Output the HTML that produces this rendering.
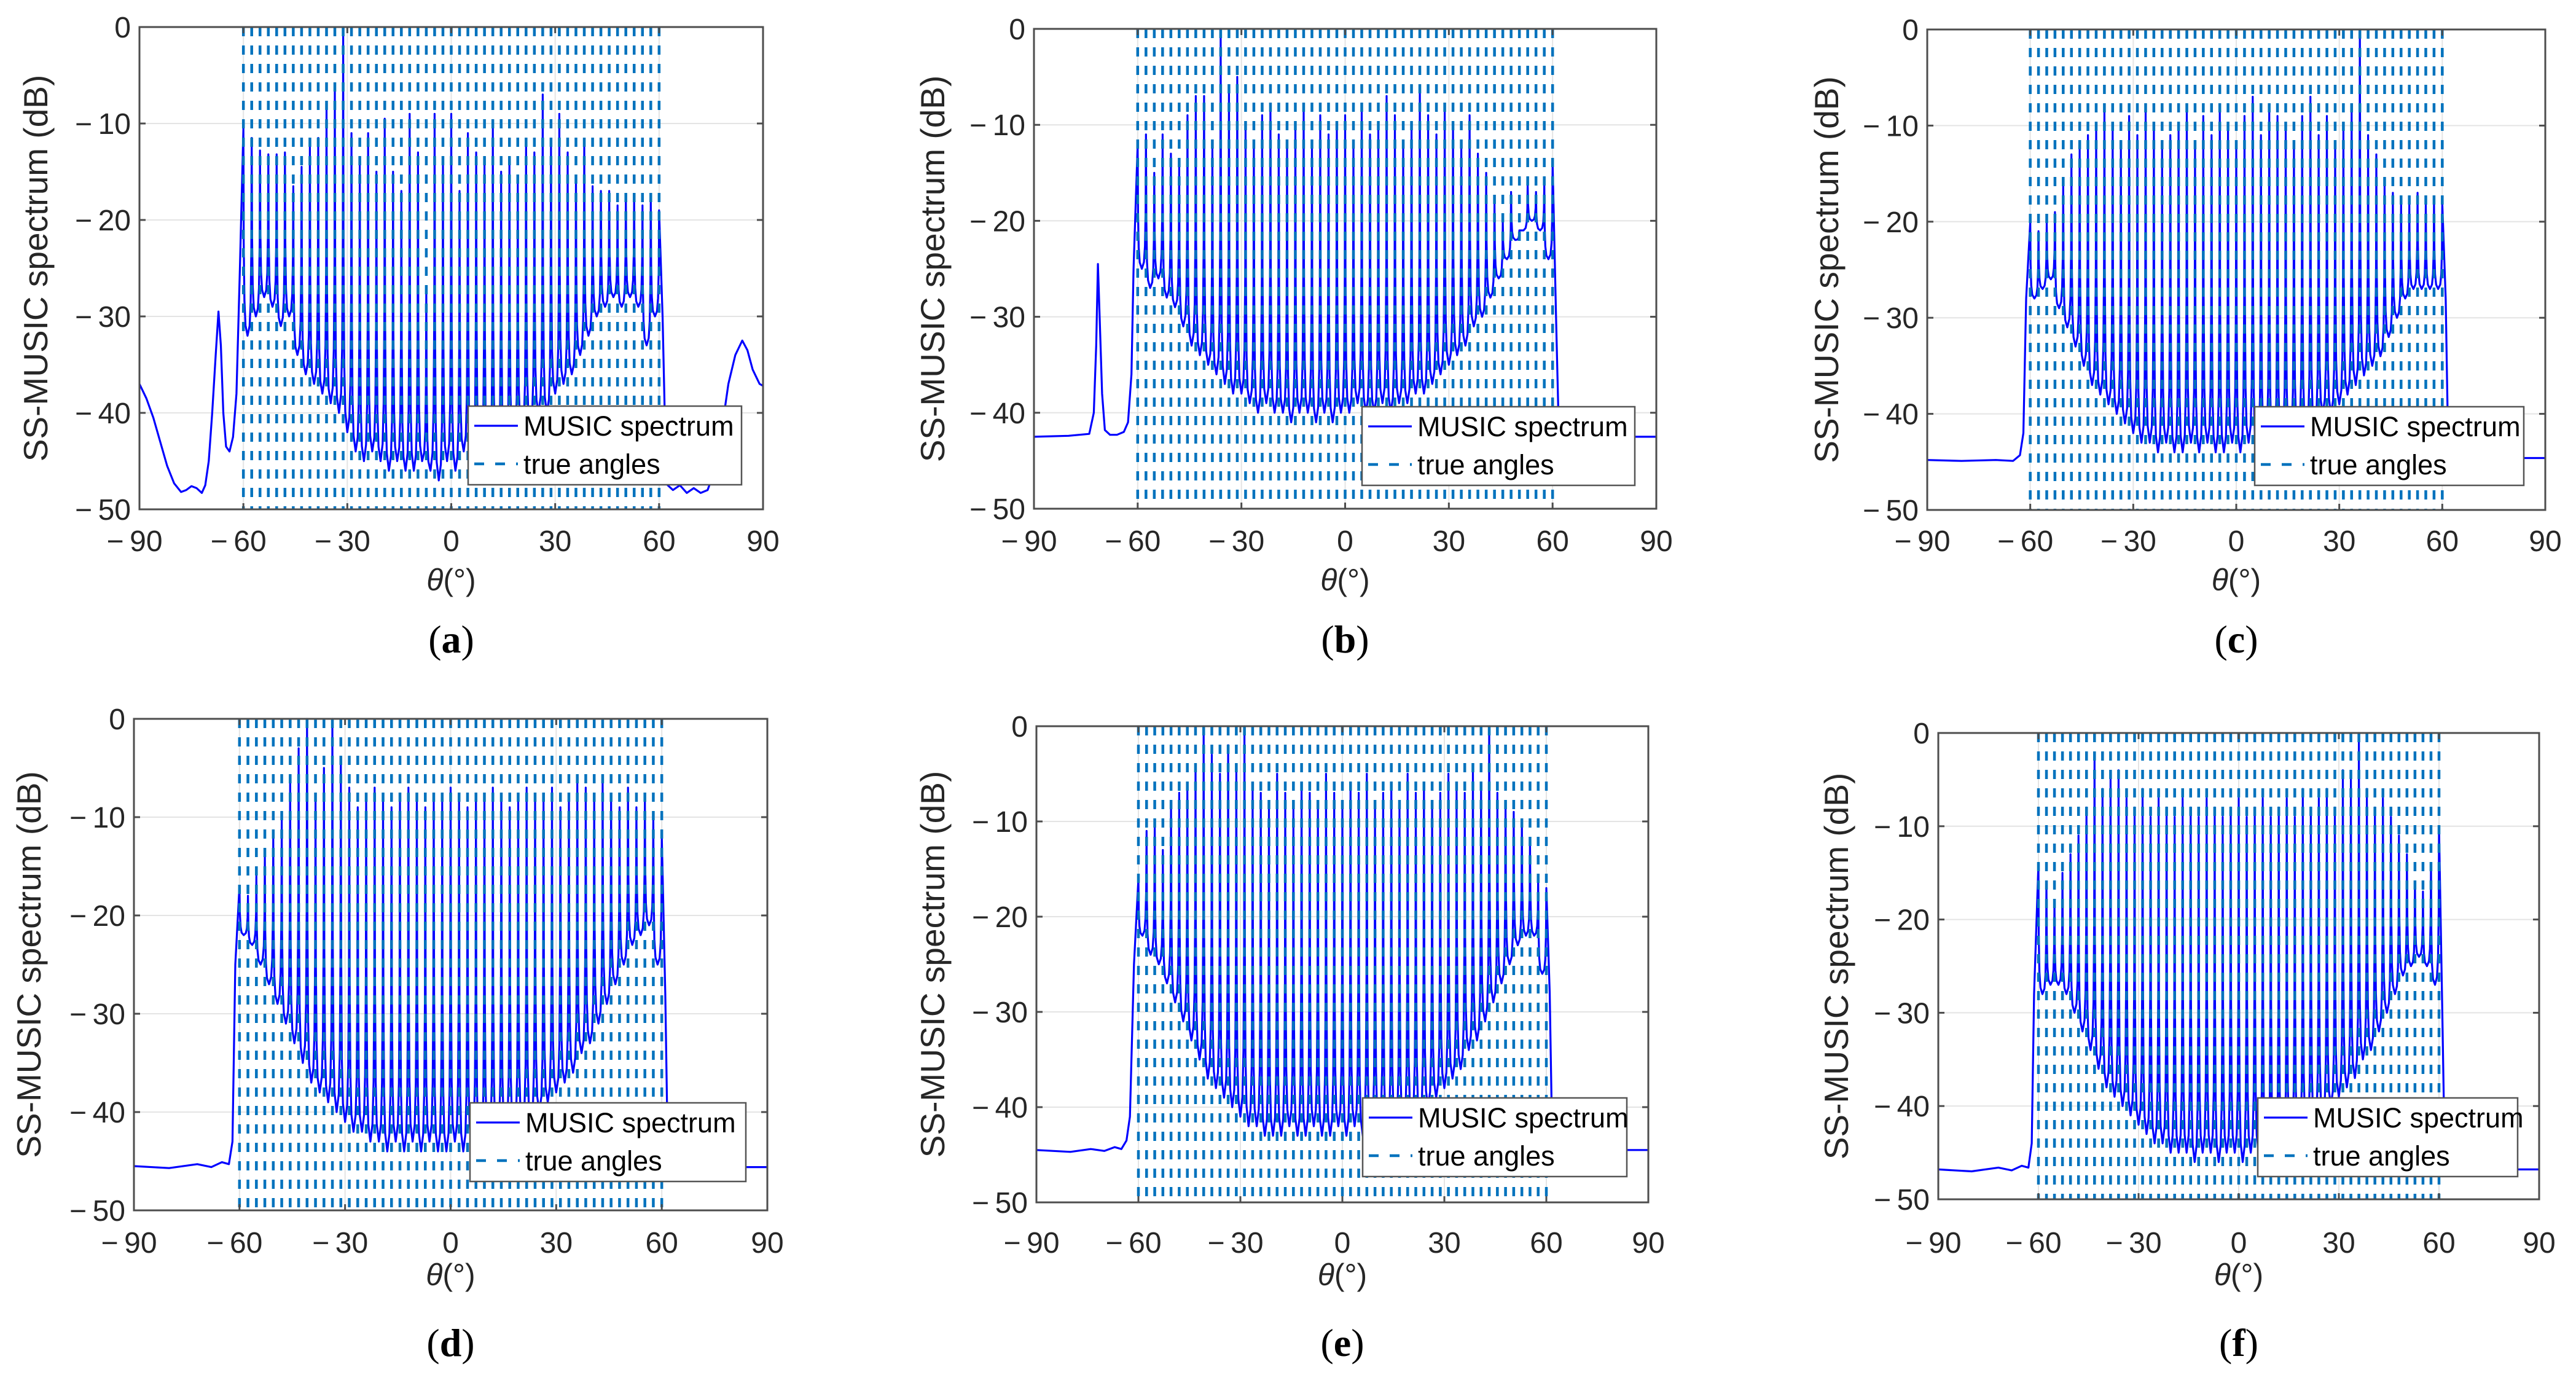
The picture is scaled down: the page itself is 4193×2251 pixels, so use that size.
<!DOCTYPE html>
<html><head><meta charset="utf-8"><title>SS-MUSIC spectra</title>
<style>
html,body{margin:0;padding:0;background:#fff;}
svg{display:block;font-family:"Liberation Sans",Arial,sans-serif;}
</style></head>
<body>
<svg id="fig" width="4193" height="2251" viewBox="0 0 4193 2251" xmlns="http://www.w3.org/2000/svg"></svg>
<script>
// ---- data (dB values) ----
const xTicks = [-90,-60,-30,0,30,60,90];
const yTicks = [0,-10,-20,-30,-40,-50];
const xTickLabels = ["\u2212\u200990","\u2212\u200960","\u2212\u200930","0","30","60","90"];
const yTickLabels = ["0","\u2212\u200910","\u2212\u200920","\u2212\u200930","\u2212\u200940","\u2212\u200950"];
const panelLetters = ["a","b","c","d","e","f"];
const trueAngleStart = -60;
const trueAngleStep = 2.4;
const trueAngleCount = 51;

const peaksA = [-10.5,-11.5,-12.8,-13.2,-13.2,-13,-16.5,-14.5,-12,-11.5,-8.5,-6.5,0,-11,-14,-11,-15,-9.5,-15,-17,-9,-13,-27,-9,-14,-9,-17,-11,-13,-14,-10.5,-15,-13.5,-16,-12,-13,-7,-12,-9,-13,-15.5,-12,-16.5,-17,-17,-18.5,-17.5,-17.5,-18.5,-18,-19];
const valleysA = [-32,-30,-28,-29,-31,-30,-34,-36,-37,-38,-39,-40,-42,-44,-45,-44,-45,-46,-45,-46,-46,-45,-46,-47,-45,-46,-44,-45,-44,-45,-44,-44,-43,-42,-41,-40,-40,-38,-37,-36,-34,-32,-30,-29,-28,-29,-28,-29,-33,-30];
const leftA = [[-90,-37],[-88,-38.5],[-86,-40.5],[-84,-43],[-82,-45.5],[-80,-47.3],[-78,-48.2],[-76.5,-48],[-75,-47.6],[-73.5,-47.8],[-72,-48.3],[-71,-47.5],[-70,-45],[-69,-40],[-68,-34],[-67.2,-29.5],[-66.5,-33],[-65.8,-40],[-65,-43.5],[-64,-44],[-63,-42.5],[-62,-38],[-61,-25]];
const rightA = [[61,-30],[61.8,-43],[62.5,-47.5],[64,-48],[66,-47.5],[68,-48.3],[70,-47.8],[72,-48.3],[74,-48],[76,-46],[78,-42],[80,-37],[82,-34],[84,-32.5],[85.5,-33.5],[87,-35.5],[89,-37],[90,-37.2]];

const peaksB = [-12,-11,-15,-11,-13,-14,-9,-7,-7,-12,0,-6,-5,-10,-12,-9,-8,-11,-12,-10,-8,-12,-9,-11,-10,-9,-12,-8,-11,-10,-7,-9,-12,-10,-6,-9,-11,-8,-10,-12,-9,-13,-15,-18,-20,-17,-21,-16,-17,-16,-14];
const valleysB = [-25,-27,-26,-28,-29,-31,-33,-34,-35,-36,-37,-38,-38,-39,-40,-39,-40,-40,-41,-40,-40,-41,-40,-41,-40,-40,-39,-40,-40,-39,-40,-39,-39,-38,-38,-37,-36,-35,-34,-33,-31,-30,-28,-26,-24,-22,-21,-20,-21,-24];
const leftB = [[-90,-42.5],[-80,-42.4],[-74,-42.2],[-72.7,-40],[-72,-33],[-71.5,-24.5],[-71,-30],[-70.3,-38],[-69.5,-41.8],[-68,-42.3],[-66,-42.3],[-64,-42],[-62.8,-41],[-61.8,-36],[-61.2,-25]];
const rightB = [[61,-30],[61.8,-42],[63,-42.5],[75,-42.5],[90,-42.5]];

const peaksC = [-20,-21,-20,-19,-16,-13,-12,-11,-10,-8,-10,-12,-9,-11,-8,-10,-12,-11,-10,-8,-12,-9,-11,-8,-10,-12,-9,-7,-11,-8,-9,-10,-12,-9,-7,-11,-9,-12,-10,-8,0,-11,-13,-16,-17,-18,-18,-17,-18,-18,-18];
const valleysC = [-28,-27,-26,-29,-31,-33,-35,-37,-38,-39,-40,-41,-42,-43,-43,-44,-43,-44,-44,-43,-44,-43,-44,-44,-43,-44,-43,-44,-43,-44,-43,-43,-42,-42,-41,-40,-40,-39,-38,-37,-36,-35,-34,-32,-30,-28,-27,-27,-27,-27];
const leftC = [[-90,-44.8],[-80,-44.9],[-70,-44.8],[-65,-44.9],[-63,-44.3],[-62,-42],[-61.2,-28]];
const rightC = [[61,-28],[61.7,-43],[62.5,-44.6],[75,-44.6],[90,-44.6]];

const peaksD = [-17,-18,-16,-14,-12,-10,-6,-3,0,-8,-5,0,-4,-7,-9,-8,-7,-8,-9,-8,-7,-8,-9,-8,-8,-7,-8,-9,-8,-8,-7,-8,-9,-8,-7,-8,-8,-7,-9,-8,-6,-7,-8,-6,-8,-9,-7,-9,-8,-10,-12];
const valleysD = [-22,-23,-25,-27,-29,-31,-33,-35,-37,-38,-39,-40,-41,-42,-42,-43,-43,-44,-43,-44,-43,-44,-43,-44,-44,-43,-44,-43,-44,-43,-43,-42,-42,-41,-41,-40,-39,-38,-37,-36,-34,-33,-31,-29,-27,-25,-23,-22,-21,-25];
const leftD = [[-90,-45.5],[-80,-45.7],[-72,-45.3],[-68,-45.6],[-65,-45.1],[-63,-45.3],[-62,-43],[-61.2,-25]];
const rightD = [[61,-28],[61.7,-44],[62.5,-45.6],[75,-45.6],[90,-45.6]];

const peaksE = [-16,-11,-10,-13,-8,-7,-6,-4,0,-3,-5,-2,-4,0,-6,-7,-8,-5,-7,-8,-6,-7,-8,-5,-7,-8,-6,-7,-5,-8,-7,-6,-8,-5,-7,-6,-8,-7,-5,-6,-7,-4,-6,0,-7,-8,-9,-10,-12,-16,-17];
const valleysE = [-22,-24,-25,-27,-29,-31,-33,-35,-37,-38,-39,-40,-41,-42,-42,-43,-43,-43,-42,-43,-43,-42,-43,-43,-42,-43,-42,-43,-43,-42,-43,-42,-42,-41,-41,-40,-39,-38,-37,-36,-34,-33,-31,-29,-27,-25,-23,-22,-22,-26];
const leftE = [[-90,-44.5],[-80,-44.7],[-74,-44.4],[-70,-44.6],[-67,-44.2],[-65,-44.4],[-63.5,-43.5],[-62.5,-41],[-61.3,-25]];
const rightE = [[61,-28],[61.7,-43],[62.5,-44.5],[75,-44.5],[90,-44.5]];

const peaksF = [-14,-16,-18,-15,-13,-11,-8,-3,-6,-5,-4,-7,-8,-6,-9,-7,-8,-9,-7,-8,-9,-7,-8,-9,-8,-7,-9,-8,-7,-9,-8,-7,-9,-6,-8,-7,-6,-8,-4,-5,0,-6,-8,-7,-9,-11,-13,-16,-17,-14,-10];
const valleysF = [-28,-27,-27,-28,-30,-32,-34,-36,-38,-39,-40,-41,-42,-43,-44,-44,-45,-45,-45,-46,-45,-45,-46,-45,-45,-46,-45,-45,-46,-45,-45,-44,-44,-43,-42,-41,-40,-39,-38,-37,-35,-34,-32,-30,-28,-26,-25,-24,-25,-27];
const leftF = [[-90,-46.8],[-80,-47],[-72,-46.6],[-68,-46.9],[-65,-46.4],[-63,-46.6],[-62,-44],[-61.3,-28]];
const rightF = [[61,-30],[61.7,-45],[62.5,-46.8],[75,-46.8],[90,-46.8]];

const peaksAll = [peaksA,peaksB,peaksC,peaksD,peaksE,peaksF];
const valleysAll = [valleysA,valleysB,valleysC,valleysD,valleysE,valleysF];
const leftAll = [leftA,leftB,leftC,leftD,leftE,leftF];
const rightAll = [rightA,rightB,rightC,rightD,rightE,rightF];

// ---- layout ----
const layout = [
 {L:227,R:1242,T:44,B:829, yt:59, leg:[762,661]},
 {L:1683,R:2696,T:47,B:828, yt:1519, leg:[2217,662]},
 {L:3137,R:4143,T:48,B:830, yt:2974, leg:[3670,662]},
 {L:218,R:1249,T:1170,B:1970, yt:48, leg:[765,1795]},
 {L:1687,R:2683,T:1182,B:1957, yt:1519, leg:[2218,1787]},
 {L:3155,R:4133,T:1193,B:1952, yt:2990, leg:[3675,1787]}
];
const rowY = [{tick:880,xl:944,sub:1040},{tick:2022,xl:2075,sub:2185}];

const NS="http://www.w3.org/2000/svg";
const svg=document.getElementById('fig');
function mk(tag,attrs,parent){const e=document.createElementNS(NS,tag);for(const k in attrs)e.setAttribute(k,attrs[k]);(parent||svg).appendChild(e);return e;}

layout.forEach((g,pi)=>{
  const row = pi<3?rowY[0]:rowY[1];
  const grp=mk('g',{});
  
  
  const sx=v=>g.L+(v+90)/180*(g.R-g.L);
  const sy=v=>g.T+(-v)/50*(g.B-g.T);
  const grid=mk('g',{stroke:'#e4e4e4','stroke-width':2},grp);
  
  
  xTicks.forEach(t=>mk('line',{x1:sx(t),x2:sx(t),y1:g.T,y2:g.B},grid));
  yTicks.forEach(t=>mk('line',{x1:g.L,x2:g.R,y1:sy(t),y2:sy(t)},grid));
  const pk=peaksAll[pi], vl=valleysAll[pi];
  const pts=[];
  leftAll[pi].forEach(p=>pts.push([p[0],p[1]]));
  const offs=[0,0.1,0.3,0.6,1.2], w=[1,0.45,0.17,0.05,0];
  for(let i=0;i<pk.length;i++){
    const a=trueAngleStart+i*trueAngleStep;
    pts.push([a,pk[i]]);
    if(i<pk.length-1){
      const v=vl[i], n=pk[i+1], h=trueAngleStep/2;
      for(let k=1;k<offs.length;k++){const o=offs[k]/1.2*h;pts.push([a+o,v+(pk[i]-v)*w[k]]);}
      for(let k=offs.length-2;k>=1;k--){const o=offs[k]/1.2*h;pts.push([a+trueAngleStep-o,v+(n-v)*w[k]]);}
    }
  }
  rightAll[pi].forEach(p=>pts.push([p[0],p[1]]));
  const d=pts.map((p,i)=>(i?'L':'M')+sx(p[0]).toFixed(1)+','+sy(p[1]).toFixed(1)).join('');
  const sp=mk('path',{d:d,fill:'none',stroke:'#0000ff','stroke-width':3.2,'stroke-linejoin':'round'},grp);
  
  
  const ta=mk('g',{stroke:'#0072bd','stroke-width':4.5,'stroke-dasharray':'15 15'},grp);
  
  
  for(let i=0;i<trueAngleCount;i++){const a=trueAngleStart+i*trueAngleStep;mk('line',{x1:sx(a),x2:sx(a),y1:g.T,y2:g.B},ta);}
  const ax=mk('rect',{x:g.L,y:g.T,width:g.R-g.L,height:g.B-g.T,fill:'none',stroke:'#4d4d4d','stroke-width':3},grp);
  
  
  const tk=mk('g',{stroke:'#4d4d4d','stroke-width':3},grp);
  xTicks.forEach(t=>{mk('line',{x1:sx(t),x2:sx(t),y1:g.B,y2:g.B-10},tk);mk('line',{x1:sx(t),x2:sx(t),y1:g.T,y2:g.T+10},tk);});
  yTicks.forEach(t=>{mk('line',{x1:g.L,x2:g.L+10,y1:sy(t),y2:sy(t)},tk);mk('line',{x1:g.R,x2:g.R-10,y1:sy(t),y2:sy(t)},tk);});
  xTicks.forEach((t,i)=>{const e=mk('text',{x:sx(t)-(t<0?8:0),y:row.tick+17,'font-size':48,'text-anchor':'middle',fill:'#262626'},grp);e.textContent=xTickLabels[i];
    
    });
  yTicks.forEach((t,i)=>{const e=mk('text',{x:g.L-14,y:sy(t)+17,'font-size':48,'text-anchor':'end',fill:'#262626'},grp);e.textContent=yTickLabels[i];
    
    });
  const ytl=mk('text',{x:0,y:0,'font-size':55,'text-anchor':'middle',fill:'#262626',transform:`translate(${g.yt+18},${(g.T+g.B)/2}) rotate(-90)`},grp);
  ytl.textContent='SS-MUSIC spectrum (dB)';
  
  
  const xtl=mk('text',{x:(g.L+g.R)/2,y:row.xl+17,'font-size':50,'text-anchor':'middle',fill:'#262626'},grp);
  xtl.innerHTML='<tspan font-style="italic">θ</tspan>(°)';
  
  
  const sub=mk('text',{x:(g.L+g.R)/2,y:row.sub+22,'font-size':64,'text-anchor':'middle',fill:'#000','font-family':'Liberation Serif, serif'},grp);
  sub.innerHTML='(<tspan font-weight="bold">'+panelLetters[pi]+'</tspan>)';
  
  
  const lx=g.leg[0], ly=g.leg[1];
  const lg=mk('g',{},grp);
  
  
  mk('rect',{x:lx,y:ly,width:g.R-35-lx,height:128,fill:'#fff',stroke:'#555','stroke-width':2.5},lg);
  mk('line',{x1:lx+10,x2:lx+81,y1:ly+32,y2:ly+32,stroke:'#0000ff','stroke-width':3.2},lg);
  mk('line',{x1:lx+10,x2:lx+81,y1:ly+94,y2:ly+94,stroke:'#0072bd','stroke-width':4.5,'stroke-dasharray':'16 18'},lg);
  const t1=mk('text',{x:lx+90,y:ly+48,'font-size':45,fill:'#000'},lg);t1.textContent='MUSIC spectrum';
  
  
  const t2=mk('text',{x:lx+90,y:ly+110,'font-size':45,fill:'#000'},lg);t2.textContent='true angles';
  
  
});
</script>
</body></html>
